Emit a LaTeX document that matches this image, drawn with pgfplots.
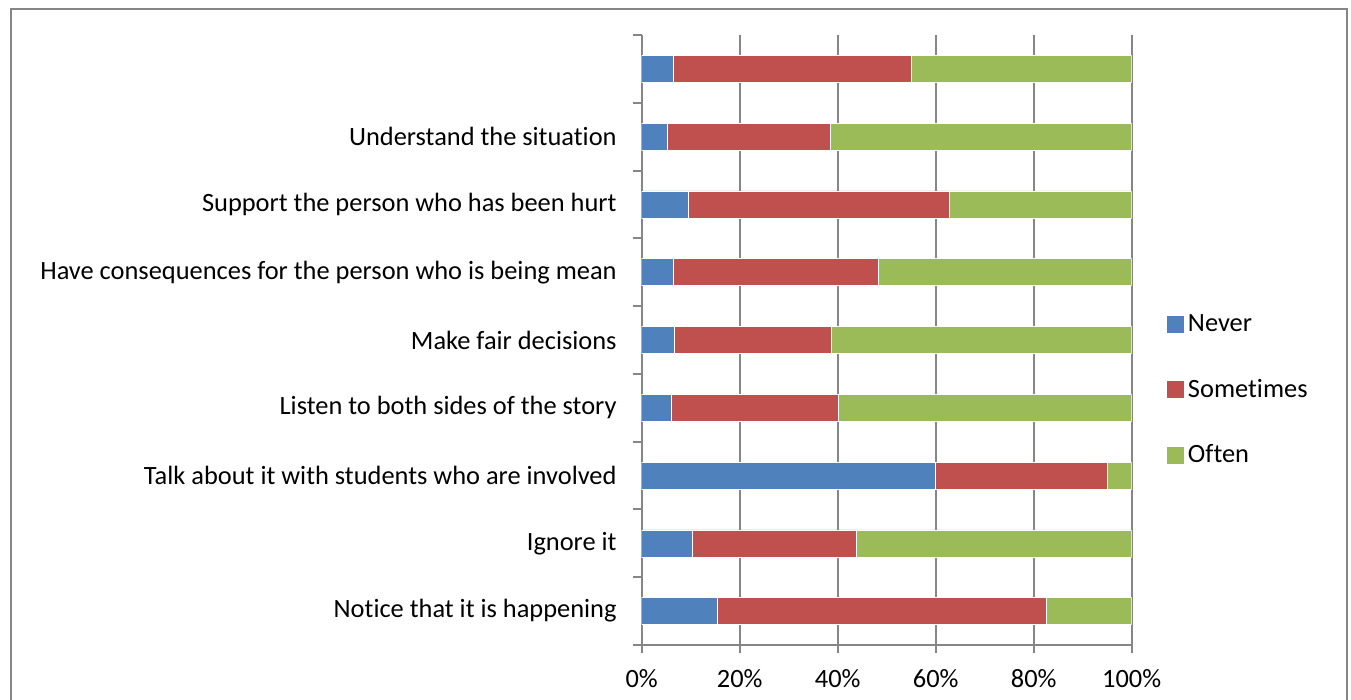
\documentclass[border=0pt]{standalone}
\usepackage{pgfplots}
\pgfplotsset{compat=1.18}
\usepackage{pgfplotstable}
\usepackage{fontspec}
\setmainfont{Carlito}[Ligatures={NoCommon}]

\definecolor{cNever}{HTML}{4F81BD}
\definecolor{cSome}{HTML}{C0504D}
\definecolor{cOften}{HTML}{9BBB59}
\definecolor{gridgray}{HTML}{868686}

\pgfplotstableread{
idx never some often
0 15.4 67.2 17.4
1 10.4 33.4 56.2
2 60.0 35.0 5.0
3 6.0 34.2 59.8
4 6.6 32.0 61.4
5 6.4 41.8 51.8
6 9.5 53.2 37.3
7 5.2 33.3 61.5
8 6.4 48.6 45.0
}\datatable

\newcommand{\lblfont}{\fontsize{13.2pt}{15pt}\selectfont}

\begin{document}
\begin{tikzpicture}
\useasboundingbox (0,0) rectangle (675.5pt,350pt);
\begin{axis}[
  at={(320.85pt,27.5pt)}, anchor=south west,
  scale only axis, width=245pt, height=305pt,
  xbar stacked, bar width=13.5pt,
  xmin=0, xmax=100, ymin=-0.5, ymax=8.5,
  xtick={0,20,...,100},
  xticklabels={0\%,20\%,40\%,60\%,80\%,100\%},
  ytick={0,...,8},
  yticklabels={Notice that it is happening, Ignore it, Talk about it with students who are involved, Listen to both sides of the story, Make fair decisions, Have consequences for the person who is being mean, Support the person who has been hurt, Understand the situation, {}},
  minor ytick={-0.5,0.5,...,8.5},
  axis x line*=bottom, axis y line*=left,
  axis line style={gridgray, line width=1pt},
  xmajorgrids, major grid style={gridgray, line width=1pt},
  tick align=outside,
  major tick length=4pt, minor tick length=4.5pt,
  every major y tick/.append style={draw=none},
  every minor y tick/.append style={gridgray, line width=1pt},
  every major x tick/.append style={gridgray, line width=1pt},
  yticklabel style={font=\lblfont, inner sep=0pt, anchor=east, xshift=-8.35pt},
  xticklabel style={font=\lblfont, inner sep=0pt, anchor=north, yshift=-8pt},
  legend style={at={(1.072,0.418)}, anchor=west, draw=none, fill=none,
    inner sep=0pt, row sep=18.25pt, font=\lblfont},
  legend cell align=left,
]
\addplot[fill=cNever, draw=white, line width=0.3pt,
  legend image code/.code={\fill[cNever] (0pt,-4pt) rectangle (8pt,4pt);}]
  table[x=never, y=idx]{\datatable};
\addplot[fill=cSome, draw=white, line width=0.3pt,
  legend image code/.code={\fill[cSome] (0pt,-4pt) rectangle (8pt,4pt);}]
  table[x=some, y=idx]{\datatable};
\addplot[fill=cOften, draw=white, line width=0.3pt,
  legend image code/.code={\fill[cOften] (0pt,-4pt) rectangle (8pt,4pt);}]
  table[x=often, y=idx]{\datatable};
\legend{Never, Sometimes, Often}
\end{axis}
\draw[gridgray, line width=1pt] (5.5pt,-10pt) -- (5.5pt,345.5pt) -- (673.5pt,345.5pt) -- (673.5pt,-10pt);
\end{tikzpicture}
\end{document}
